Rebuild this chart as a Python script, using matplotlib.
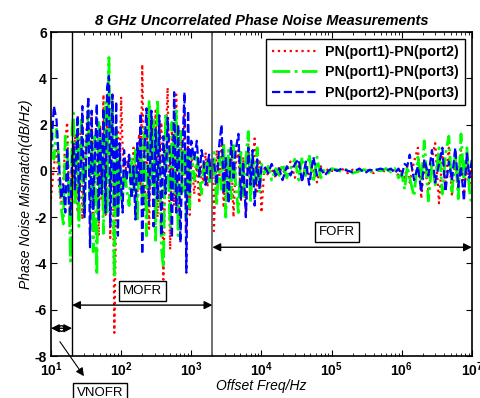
import matplotlib
matplotlib.use("Agg")
import matplotlib.pyplot as plt

plt.rcParams['font.family'] = ['Liberation Sans', 'DejaVu Sans']
plt.rcParams['mathtext.fontset'] = 'custom'
plt.rcParams['mathtext.rm'] = 'Liberation Sans'
plt.rcParams['mathtext.bf'] = 'Liberation Sans:bold'

# ---- data ----
freq_hz = [10, 11, 12, 13, 14, 15, 16, 17, 18, 19, 20,
           21, 22, 24, 25, 27, 28, 30, 32, 34, 36, 38, 40, 42, 45, 48, 50, 53, 56, 60, 63, 67, 70, 75, 80, 85, 90, 95, 100,
           105, 110, 120, 130, 140, 150, 160, 170, 180, 190, 200, 215, 230, 250, 270, 290, 310, 330, 350, 375, 400, 430,
           460, 500, 530, 570, 610, 650, 700, 750, 800, 850, 900, 950, 1000,
           1100, 1200, 1300, 1400, 1500, 1600, 1700, 1800, 1900, 2000,
           2100, 2300, 2500, 2700, 2900, 3100, 3400, 3700, 4000, 4300, 4700, 5100, 5500, 6000, 6500, 7000, 7500, 8000,
           8700, 9400, 10000,
           11000, 12500, 14000, 16000, 18000, 20000, 23000, 26000, 30000, 34000, 38000, 43000, 48000, 55000, 62000,
           70000, 80000, 90000, 100000,
           120000, 140000, 170000, 200000, 250000, 300000, 350000, 400000, 500000, 600000, 700000, 800000, 900000,
           1000000,
           1.1e6, 1.2e6, 1.3e6, 1.5e6, 1.7e6, 1.9e6, 2.1e6, 2.4e6, 2.7e6, 3e6, 3.4e6, 3.8e6, 4.2e6, 4.7e6, 5.2e6,
           5.8e6, 6.4e6, 7e6, 7.7e6, 8.5e6, 9.2e6, 1e7]

pn12 = [-1.2, 0.2, 1.0, -0.6, -1.5, -0.4, 1.3, 2.1, -0.8, -2.3, 0.4,
        -0.5, 1.6, -1.8, 0.9, 2.0, -2.1, 0.5, 1.7, 3.2, -1.0, 2.4, -2.6, 1.2, 0.3, -2.8, 2.0, -1.3, 3.3, -1.9, 2.4,
        0.8, -2.9, 3.2, -7.0, -1.5, 1.8, -0.9, 3.2,
        1.0, -0.6, 0.4, 0.7, -0.5, 1.0, 0.3, -1.2, 1.6, -0.8, 4.6, -1.8, 1.5, -2.5, 2.3, -1.0, 2.6, -2.0, 1.2, 2.1,
        -4.7, 1.0, 3.6, -3.4, 2.0, -1.5, 3.3, -2.1, 1.8, -0.5, 2.4, -2.6, 1.1, -1.9, 0.8,
        -1.0, 0.3, -1.4, 0.2, -0.5, 0.8, -0.7, 0.5, -0.2, 0.1,
        -2.6, 0.9, -0.3, 1.1, -1.6, 0.5, -0.9, 1.0, -2.0, 0.3, 0.9, -1.3, 0.6, -1.9, 1.2, -0.7, 0.4, 1.4, -1.0, 0.5,
        -1.8,
        0.1, -0.2, 0.1, -0.3, 0.2, -0.1, 0.1, 0.4, -0.3, 0.2, -0.4, 0.3, -0.2, 0.1, -0.5, 0.2, -0.1, 0.1, 0.0,
        0.0, 0.1, -0.1, 0.05, -0.05, 0.1, 0.0, -0.1, 0.05, -0.05, 0.1, 0.0, -0.2, 0.1,
        -0.3, 0.2, -0.5, 0.4, 1.0, -1.2, 0.3, -0.8, 0.6, 1.2, -1.4, 0.7, -0.5, 1.0, -1.1, 0.5, -0.6, 0.9, -1.0, 0.4,
        -0.7, 0.2]

pn13 = [2.1, 0.5, 1.8, 0.4, -1.6, -2.3, 1.5, 1.2, -1.0, -3.9, 1.8,
        2.5, -1.5, 1.8, -2.4, 2.2, 0.4, -2.0, 1.0, 2.6, -1.1, 0.9, -3.5, 1.5, -4.5, 2.1, -0.8, 1.4, -2.7, 3.0, -1.9,
        4.9, -1.0, 3.1, -4.6, 1.8, -2.0, 0.6, -1.2,
        -1.3, 0.3, -0.8, -1.5, 0.6, -0.9, 0.9, -2.2, 0.4, 1.2, -1.1, 1.9, -2.8, 3.0, -0.6, 2.2, -3.0, 3.1, 0.6, -3.3,
        -4.2, 2.5, 0.5, -2.4, 2.1, -1.0, 2.6, -2.8, 1.7, -0.9, 1.0, -2.0, 0.8, -1.6, 0.9,
        -0.4, 0.6, -0.2, -1.0, 0.3, -0.1, 0.4, -0.6, 0.2, -0.3,
        0.8, -1.5, 0.6, -0.8, 1.2, -2.0, 0.9, -1.2, 1.1, -0.6, -1.8, 0.8, -1.1, 0.5, 1.7, -1.4, 0.6, -0.5, 1.0, -0.9,
        0.3,
        -0.1, 0.2, -0.4, 0.1, -0.2, 0.3, -0.3, 0.1, 0.5, -0.4, 0.6, -0.2, 0.7, -0.5, 0.6, -0.3, 0.1, -0.1, 0.1,
        0.05, -0.05, 0.1, -0.1, 0.0, 0.05, -0.1, 0.1, 0.0, 0.1, -0.05, 0.1, -0.3, -0.1,
        -0.8, 0.2, -0.3, -1.1, 0.6, -0.5, 1.3, -1.3, 0.4, -0.6, 1.0, -1.0, 0.7, 1.5, -0.9, 0.8, -1.2, 1.6, -0.4, 1.0,
        -0.8, -1.5]

pn23 = [0.8, 2.8, 2.2, 0.3, -1.2, -0.6, -1.8, 1.0, -1.4, -1.9, 0.6,
        1.2, -0.8, 2.4, -1.3, 0.6, 2.8, -2.0, 1.1, 3.2, -3.3, 2.6, -1.7, 0.4, 2.9, -2.2, 1.9, -1.0, 2.7, -1.8, 3.6,
        4.1, -2.4, 3.3, -1.6, 3.0, -2.8, 1.2, -0.7,
        -1.8, 0.9, -0.4, 0.7, -1.2, 0.2, -2.1, 1.2, -0.5, 2.5, -3.6, 1.0, 2.7, -1.5, 2.6, -2.4, 1.8, -1.2, 2.4, -2.8,
        1.5, -1.0, 2.3, 0.4, -2.9, 3.4, -1.8, 2.0, -3.1, 1.1, 3.4, -4.4, 2.6, -1.0, 1.3,
        0.5, 1.3, -0.3, 0.9, 0.4, -0.6, 0.3, 0.7, -0.4, 0.5,
        0.4, -0.6, 1.1, 2.0, -1.0, 0.6, -1.4, 1.3, -0.3, 0.9, 1.6, -1.2, 0.4, -2.0, 1.0, -0.6, 0.9, -1.5, 0.5, -0.8,
        0.2,
        0.2, -0.1, 0.3, -0.2, 0.1, -0.4, 0.2, -0.2, 0.3, 0.5, -0.5, 0.4, -0.6, 0.6, -0.2, 0.1, -0.2, 0.0, 0.1,
        0.0, 0.1, 0.0, -0.05, 0.1, -0.1, 0.05, 0.0, 0.1, 0.0, 0.1, -0.1, 0.1, -0.2,
        0.3, 0.2, 0.7, -0.4, 0.2, -0.9, 0.5, -0.2, 0.9, -0.5, 0.3, 1.0, -0.9, 0.4, -0.4, 1.0, -0.7, 0.2, -1.3, 0.8,
        -0.3, 0.5]

series_labels = ['PN(port1)-PN(port2)', 'PN(port1)-PN(port3)', 'PN(port2)-PN(port3)']
region_bounds_hz = [10, 20, 2000, 1e7]
region_names = ['VNOFR', 'MOFR', 'FOFR']

# ---- figure ----
fig = plt.figure(figsize=(4.81, 3.98), dpi=100)
ax = fig.add_axes([0.106, 0.1055, 0.875, 0.814])

ax.plot(freq_hz, pn12, color=(1, 0, 0), linestyle=':', linewidth=1.6, label=series_labels[0])
ax.plot(freq_hz, pn13, color=(0, 1, 0), linestyle='-.', linewidth=2.0, label=series_labels[1])
ax.plot(freq_hz, pn23, color=(0, 0, 1), linestyle='--', linewidth=1.6, label=series_labels[2])

ax.set_xscale('log')
ax.set_xlim(10, 1e7)
ax.set_ylim(-8, 6)
ax.set_yticks([-8, -6, -4, -2, 0, 2, 4, 6])
ax.set_yticklabels(['-8', '-6', '-4', '-2', '0', '2', '4', '6'], fontweight='bold', fontsize=10)
xt = [1e1, 1e2, 1e3, 1e4, 1e5, 1e6, 1e7]
ax.set_xticks(xt)
ax.set_xticklabels([r'$\mathbf{10^{%d}}$' % k for k in range(1, 8)], fontsize=10)
ax.tick_params(which='both', direction='in', top=True, right=True)
ax.tick_params(which='major', length=4, width=0.8, pad=3)
ax.tick_params(which='minor', length=2, width=0.6)
for s in ax.spines.values():
    s.set_linewidth(1.2)

# region boundary lines
ax.axvline(region_bounds_hz[1], color='black', linewidth=1.0)
ax.axvline(region_bounds_hz[2], color='0.35', linewidth=1.2)

# arrows
arrow_kw = dict(arrowstyle='<|-|>', color='black', lw=1.0, mutation_scale=12,
                shrinkA=0, shrinkB=0)
ax.annotate('', xy=(region_bounds_hz[0], -6.8), xytext=(region_bounds_hz[1], -6.8), arrowprops=arrow_kw)
ax.plot([13.9], [-6.8], marker='o', markersize=4, markerfacecolor='white', markeredgecolor='black', mew=1.0)
ax.annotate('', xy=(region_bounds_hz[1], -5.8), xytext=(region_bounds_hz[2], -5.8), arrowprops=arrow_kw)
ax.annotate('', xy=(region_bounds_hz[2], -3.3), xytext=(region_bounds_hz[3], -3.3), arrowprops=arrow_kw)

box = dict(boxstyle='square,pad=0.3', facecolor='white', edgecolor='black', linewidth=1.0)
ax.text(200, -5.2, region_names[1], ha='center', va='center', fontsize=9.5, bbox=box)
ax.text(1.2e5, -2.65, region_names[2], ha='center', va='center', fontsize=9.5, bbox=box)
ax.annotate(region_names[0], xy=(29.5, -8.87), xytext=(50, -9.6), ha='center', va='center',
            fontsize=9.5, bbox=box, annotation_clip=False)
ax.annotate('', xy=(29.5, -8.87), xytext=(13.4, -7.38), annotation_clip=False,
            arrowprops=dict(arrowstyle='-|>', color='black', lw=0.8, mutation_scale=12,
                            shrinkA=0, shrinkB=0))

ax.set_title('8 GHz Uncorrelated Phase Noise Measurements', fontsize=10.5, fontweight='bold',
             fontstyle='italic', pad=5)
ax.set_xlabel('Offset Freq/Hz', fontsize=10, fontstyle='italic', labelpad=0)
ax.set_ylabel('Phase Noise Mismatch(dB/Hz)', fontsize=10, fontstyle='italic', labelpad=1)

leg = ax.legend(loc='upper right', prop={'weight': 'bold', 'size': 10.2},
                fancybox=False, edgecolor='black', framealpha=1, handlelength=3.2,
                borderaxespad=0.5, labelspacing=0.45, handletextpad=0.6)
leg.get_frame().set_linewidth(1.0)

fig.savefig('out.png', dpi=100)
